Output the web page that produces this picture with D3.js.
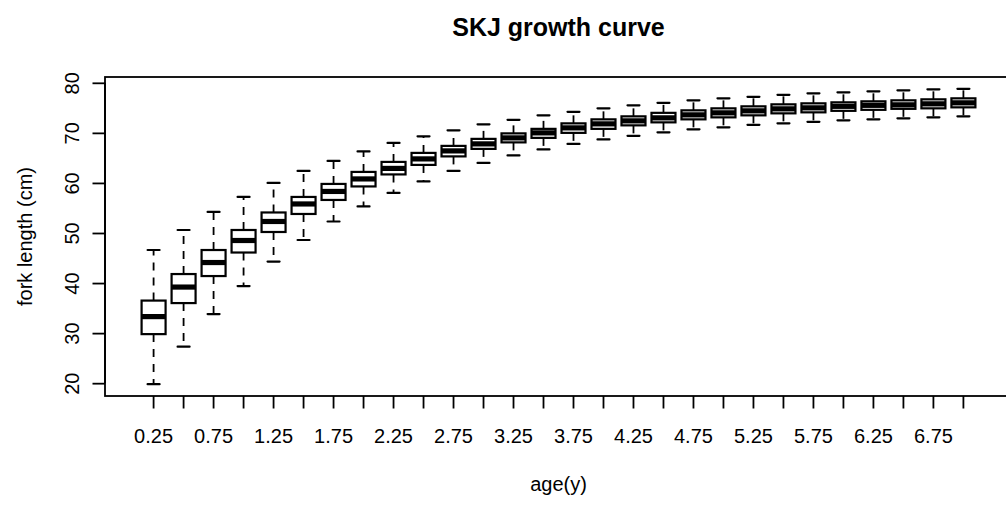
<!DOCTYPE html>
<html>
<head>
<meta charset="utf-8">
<script src="https://cdn.jsdelivr.net/npm/d3@7"></script>
<style>
  html, body { margin: 0; padding: 0; background: #fff; }
  svg { display: block; }
  text { font-family: "Liberation Sans", Arial, Helvetica, sans-serif; fill: #000; }
</style>
</head>
<body>
<svg id="chart" width="1006" height="505"></svg>
<script>
// ---- data ----
const ages = ["0.25","0.5","0.75","1","1.25","1.5","1.75","2","2.25","2.5","2.75","3","3.25","3.5",
              "3.75","4","4.25","4.5","4.75","5","5.25","5.5","5.75","6","6.25","6.5","6.75","7"];
const whiskerLow  = [19.8,27.3,33.8,39.4,44.3,48.6,52.3,55.3,58.0,60.3,62.4,64.0,65.5,66.7,
                     67.8,68.7,69.4,70.1,70.7,71.1,71.6,71.9,72.2,72.5,72.7,72.9,73.1,73.3];
const q1          = [29.8,36.0,41.4,46.1,50.2,53.8,56.6,59.3,61.7,63.6,65.3,66.8,68.1,69.0,
                     70.0,70.8,71.5,72.1,72.7,73.1,73.5,73.9,74.1,74.4,74.6,74.8,74.9,75.1];
const medians     = [33.3,39.2,44.1,48.5,52.3,55.8,58.3,60.8,62.9,64.8,66.4,67.8,69.0,70.0,
                     71.0,71.8,72.4,73.0,73.6,74.0,74.4,74.8,75.0,75.3,75.5,75.6,75.8,76.0];
const q3          = [36.5,41.8,46.6,50.6,54.1,57.2,59.8,62.2,64.2,66.0,67.4,68.8,69.9,70.8,
                     71.9,72.7,73.3,74.0,74.5,74.9,75.3,75.7,75.9,76.1,76.3,76.5,76.7,76.9];
const whiskerHigh = [46.6,50.6,54.2,57.2,60.0,62.4,64.4,66.3,68.0,69.3,70.5,71.7,72.6,73.5,
                     74.2,74.9,75.5,76.0,76.5,76.9,77.2,77.6,77.9,78.1,78.3,78.5,78.7,78.8];
const yTicks = [20, 30, 40, 50, 60, 70, 80];
const xTickLabels = ["0.25","0.75","1.25","1.75","2.25","2.75","3.25","3.75","4.25","4.75",
                     "5.25","5.75","6.25","6.75"];
const title = "SKJ growth curve";
const xLabel = "age(y)";
const yLabel = "fork length (cm)";

// ---- layout ----
const plot = { left: 105, right: 1012, top: 77, bottom: 396 };
const lw = 1.8;

const svg = d3.select("#chart");

const n = ages.length;
const ext = 0.04 * n;               // R's 4% axis extension
const unit = (plot.right - plot.left) / (n + 2 * ext);
const x = d3.scaleBand()
  .domain(ages)
  .range([plot.left + ext * unit, plot.right - ext * unit])
  .paddingInner(0).paddingOuter(0);

const yMin = d3.min(whiskerLow), yMax = d3.max(whiskerHigh);
const yPad = (yMax - yMin) * 0.04;
const y = d3.scaleLinear()
  .domain([yMin - yPad, yMax + yPad])
  .range([plot.bottom, plot.top]);

const boxes = ages.map((a, i) => ({
  age: a, lo: whiskerLow[i], q1: q1[i], med: medians[i], q3: q3[i], hi: whiskerHigh[i]
}));

const bw = x.bandwidth() * 0.8;
const cx = d => x(d.age) + x.bandwidth() / 2;

const g = svg.append("g");

// whiskers (dashed)
g.selectAll("line.wl").data(boxes).join("line")
  .attr("x1", cx).attr("x2", cx)
  .attr("y1", d => y(d.q1)).attr("y2", d => y(d.lo))
  .attr("stroke", "#000").attr("stroke-width", lw).attr("stroke-dasharray", "8,7");
g.selectAll("line.wh").data(boxes).join("line")
  .attr("x1", cx).attr("x2", cx)
  .attr("y1", d => y(d.q3)).attr("y2", d => y(d.hi))
  .attr("stroke", "#000").attr("stroke-width", lw).attr("stroke-dasharray", "8,7");

// staples
["lo", "hi"].forEach(k => {
  g.selectAll("line.st" + k).data(boxes).join("line")
    .attr("x1", d => cx(d) - bw / 4).attr("x2", d => cx(d) + bw / 4)
    .attr("y1", d => y(d[k])).attr("y2", d => y(d[k]))
    .attr("stroke", "#000").attr("stroke-width", 2.2).attr("stroke-linecap", "round");
});

// boxes
g.selectAll("rect.box").data(boxes).join("rect")
  .attr("x", d => cx(d) - bw / 2).attr("width", bw)
  .attr("y", d => y(d.q3)).attr("height", d => y(d.q1) - y(d.q3))
  .attr("fill", "#fff").attr("stroke", "#000").attr("stroke-width", 2.2);

// medians
g.selectAll("line.med").data(boxes).join("line")
  .attr("x1", d => cx(d) - bw / 2).attr("x2", d => cx(d) + bw / 2)
  .attr("y1", d => y(d.med)).attr("y2", d => y(d.med))
  .attr("stroke", "#000").attr("stroke-width", 5.2).attr("stroke-linecap", "butt");

// frame
svg.append("rect")
  .attr("x", plot.left).attr("y", plot.top)
  .attr("width", plot.right - plot.left).attr("height", plot.bottom - plot.top)
  .attr("fill", "none").attr("stroke", "#000").attr("stroke-width", lw);

// x axis
const xAxis = d3.axisBottom(x)
  .tickSize(12.5).tickSizeOuter(0)
  .tickFormat(a => xTickLabels.includes(a) ? a : "");
const xg = svg.append("g").attr("transform", `translate(0,${plot.bottom})`).call(xAxis);
xg.select(".domain").remove();
xg.selectAll(".tick line").attr("stroke-width", lw);
xg.selectAll(".tick text")
  .attr("y", 47).attr("dy", 0)
  .attr("font-size", 20).attr("font-family", "Liberation Sans, Arial, sans-serif");

// y axis
const yAxis = d3.axisLeft(y).tickValues(yTicks).tickSize(12.5).tickSizeOuter(0);
const yg = svg.append("g").attr("transform", `translate(${plot.left},0)`).call(yAxis);
yg.select(".domain").remove();
yg.selectAll(".tick line").attr("stroke-width", lw);
yg.selectAll(".tick text")
  .attr("transform", "rotate(-90)")
  .attr("x", 0).attr("y", -26).attr("dy", 0)
  .attr("text-anchor", "middle")
  .attr("font-size", 20).attr("font-family", "Liberation Sans, Arial, sans-serif");
yg.append("line").attr("x1", 0).attr("x2", 0)
  .attr("y1", y(yTicks[0])).attr("y2", y(yTicks[yTicks.length - 1]))
  .attr("stroke", "#000").attr("stroke-width", lw);

// titles
const midX = (plot.left + plot.right) / 2;
svg.append("text")
  .attr("x", midX).attr("y", 36)
  .attr("text-anchor", "middle")
  .attr("font-size", 25).attr("font-weight", "bold")
  .text(title);

svg.append("text")
  .attr("x", midX).attr("y", 491)
  .attr("text-anchor", "middle")
  .attr("font-size", 20)
  .text(xLabel);

svg.append("text")
  .attr("transform", `translate(32,${(plot.top + plot.bottom) / 2}) rotate(-90)`)
  .attr("text-anchor", "middle")
  .attr("font-size", 20)
  .text(yLabel);
</script>
</body>
</html>
